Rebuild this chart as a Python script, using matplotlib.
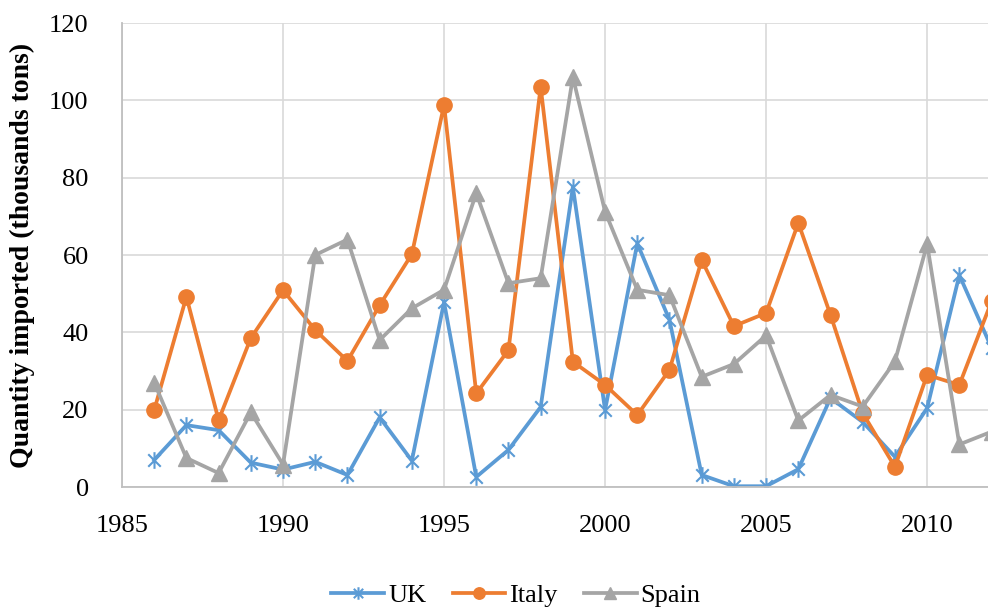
import matplotlib
matplotlib.use("Agg")
import matplotlib.pyplot as plt
from matplotlib.path import Path

years = list(range(1986, 2013))
uk = [7.0, 16.0, 14.7, 6.3, 4.5, 6.5, 3.1, 18.0, 6.8, 47.8, 2.6, 9.6, 20.7, 77.6, 19.9,
      63.0, 43.2, 3.1, 0.2, 0.2, 4.6, 23.0, 16.8, 7.8, 20.4, 54.8, 36.0]
italy = [19.9, 49.2, 17.3, 38.5, 50.9, 40.6, 32.6, 47.0, 60.2, 98.8, 24.2, 35.4, 103.5, 32.4, 26.4,
         18.6, 30.3, 58.7, 41.6, 45.0, 68.3, 44.5, 19.1, 5.2, 29.0, 26.4, 48.0]
spain = [27.0, 7.5, 3.6, 19.3, 5.8, 60.0, 64.0, 38.0, 46.2, 51.0, 76.0, 52.7, 54.0, 106.0, 71.2,
         51.0, 49.6, 28.5, 31.8, 39.2, 17.2, 23.8, 20.8, 32.5, 62.8, 11.0, 14.3]

x_ticks = [1985, 1990, 1995, 2000, 2005, 2010]
y_ticks = [0, 20, 40, 60, 80, 100, 120]

plt.rcParams["font.family"] = ["Liberation Serif", "DejaVu Serif"]

# Excel-style star marker: an x with a vertical stroke through it
star = Path([(0, -1), (0, 1), (-0.75, -0.75), (0.75, 0.75), (-0.75, 0.75), (0.75, -0.75)],
            [Path.MOVETO, Path.LINETO, Path.MOVETO, Path.LINETO, Path.MOVETO, Path.LINETO])

fig = plt.figure(figsize=(9.88, 6.08), dpi=100)
ax = fig.add_axes([122 / 988, 1 - 487 / 608, 866 / 988, 464 / 608])

ax.plot(years, uk, color="#5B9BD5", linewidth=2.7, marker=star, markersize=12,
        markeredgewidth=1.5, label="UK")
ax.plot(years, italy, color="#ED7D31", linewidth=2.7, marker="o", markersize=11,
        label="Italy")
ax.plot(years, spain, color="#A5A5A5", linewidth=2.7, marker="^", markersize=11,
        label="Spain")

ax.set_xlim(1985, 2011.89)
ax.set_ylim(0, 120)
ax.set_xticks(x_ticks)
ax.set_yticks(y_ticks)
ax.grid(True, color="#D9D9D9", linewidth=1.2)
ax.set_axisbelow(True)
for side in ["top", "right"]:
    ax.spines[side].set_visible(False)
for side in ["left", "bottom"]:
    ax.spines[side].set_color("#BFBFBF")
    ax.spines[side].set_linewidth(1.3)
ax.tick_params(axis="both", length=0, labelsize=19, colors="#000000")
ax.tick_params(axis="y", pad=24)
ax.tick_params(axis="x", pad=20)

ax.set_ylabel("Quantity imported (thousands tons)", fontsize=20, fontweight="bold",
              labelpad=10)

fig.legend(loc="center", bbox_to_anchor=(516 / 988, 1 - 595 / 608), ncol=3, frameon=False,
           fontsize=19, handlelength=2.0, columnspacing=1.0, handletextpad=0.15,
           markerscale=0.75)

fig.savefig("out.png", dpi=100)
